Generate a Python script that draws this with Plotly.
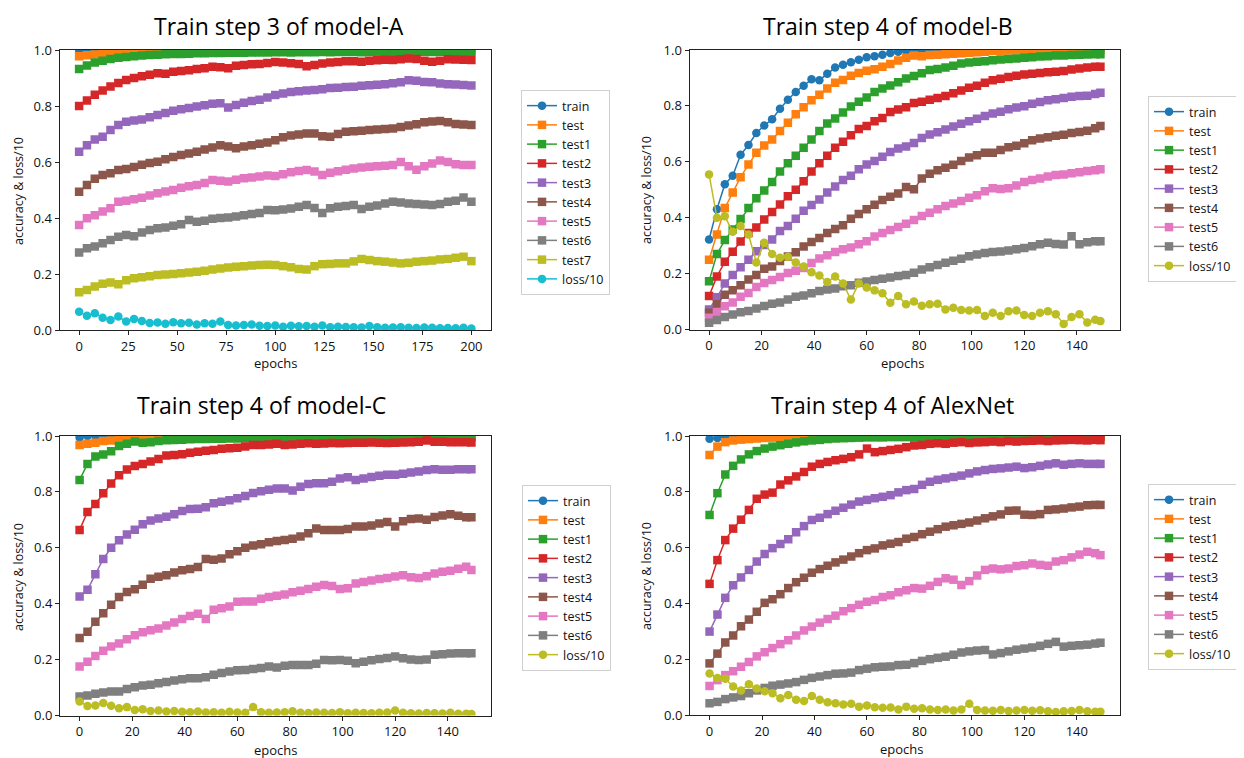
import plotly.graph_objects as go

# ---------------- data ----------------
EPOCHS_A = list(range(0, 201, 4))
EPOCHS_B = list(range(0, 148, 3)) + [149]

X_TICKS_A = [0, 25, 50, 75, 100, 125, 150, 175, 200]
X_TICKS_B = [0, 20, 40, 60, 80, 100, 120, 140]
Y_TICKS = [0.0, 0.2, 0.4, 0.6, 0.8, 1.0]

NAMES_A = ["train", "test", "test1", "test2", "test3", "test4", "test5", "test6", "test7", "loss/10"]
NAMES_B = ["train", "test", "test1", "test2", "test3", "test4", "test5", "test6", "loss/10"]

TITLES = ["Train step 3 of model-A", "Train step 4 of model-B",
          "Train step 4 of model-C", "Train step 4 of AlexNet"]

# ---- model-A ----
A_TRAIN = [1.0, 1.0, 1.0, 1.0, 1.0, 1.0, 1.0, 1.0, 1.0, 1.0,
           1.0, 1.0, 1.0, 1.0, 1.0, 1.0, 1.0, 1.0, 1.0, 1.0,
           1.0, 1.0, 1.0, 1.0, 1.0, 1.0, 1.0, 1.0, 1.0, 1.0,
           1.0, 1.0, 1.0, 1.0, 1.0, 1.0, 1.0, 1.0, 1.0, 1.0,
           1.0, 1.0, 1.0, 1.0, 1.0, 1.0, 1.0, 1.0, 1.0, 1.0,
           1.0]
A_TEST = [0.978, 0.981, 0.984, 0.987, 0.990, 0.992, 0.995, 0.997, 0.998, 0.999,
          1.0, 1.0, 1.0, 1.0, 1.0, 1.0, 1.0, 1.0, 1.0, 1.0,
          1.0, 1.0, 1.0, 1.0, 1.0, 1.0, 1.0, 1.0, 1.0, 1.0,
          1.0, 1.0, 1.0, 1.0, 1.0, 1.0, 1.0, 1.0, 1.0, 1.0,
          1.0, 1.0, 1.0, 1.0, 1.0, 1.0, 1.0, 1.0, 1.0, 1.0,
          1.0]
A_TEST1 = [0.932, 0.945, 0.955, 0.962, 0.968, 0.972, 0.975, 0.978, 0.980, 0.982,
           0.983, 0.985, 0.986, 0.986, 0.987, 0.988, 0.988, 0.989, 0.989, 0.990,
           0.990, 0.990, 0.991, 0.991, 0.991, 0.992, 0.992, 0.991, 0.992, 0.992,
           0.992, 0.993, 0.992, 0.993, 0.993, 0.993, 0.992, 0.993, 0.993, 0.994,
           0.993, 0.994, 0.993, 0.994, 0.994, 0.993, 0.994, 0.994, 0.994, 0.994,
           0.994]
A_TEST2 = [0.800, 0.820, 0.840, 0.855, 0.870, 0.882, 0.893, 0.900, 0.906, 0.912,
           0.917, 0.915, 0.922, 0.925, 0.928, 0.932, 0.935, 0.940, 0.938, 0.935,
           0.944, 0.946, 0.949, 0.950, 0.954, 0.957, 0.955, 0.953, 0.950, 0.942,
           0.946, 0.952, 0.955, 0.957, 0.960, 0.960, 0.958, 0.962, 0.963, 0.965,
           0.964, 0.967, 0.970, 0.968, 0.962, 0.958, 0.962, 0.967, 0.966, 0.965,
           0.964]
A_TEST3 = [0.637, 0.660, 0.680, 0.690, 0.714, 0.732, 0.744, 0.748, 0.752, 0.760,
           0.768, 0.775, 0.783, 0.788, 0.793, 0.798, 0.803, 0.808, 0.810, 0.795,
           0.804, 0.812, 0.818, 0.822, 0.830, 0.839, 0.845, 0.850, 0.853, 0.855,
           0.857, 0.860, 0.864, 0.865, 0.868, 0.869, 0.872, 0.874, 0.876, 0.878,
           0.881, 0.885, 0.892, 0.890, 0.886, 0.885, 0.880, 0.878, 0.877, 0.875,
           0.873]
A_TEST4 = [0.494, 0.518, 0.540, 0.554, 0.560, 0.571, 0.575, 0.582, 0.590, 0.596,
           0.601, 0.610, 0.618, 0.625, 0.630, 0.637, 0.645, 0.652, 0.660, 0.655,
           0.649, 0.655, 0.660, 0.665, 0.670, 0.678, 0.688, 0.695, 0.698, 0.702,
           0.702, 0.692, 0.690, 0.700, 0.708, 0.710, 0.712, 0.714, 0.716, 0.718,
           0.720, 0.725, 0.730, 0.735, 0.742, 0.745, 0.746, 0.742, 0.736, 0.734,
           0.732]
A_TEST5 = [0.375, 0.399, 0.410, 0.423, 0.435, 0.458, 0.462, 0.467, 0.472, 0.480,
           0.488, 0.495, 0.500, 0.508, 0.513, 0.518, 0.525, 0.536, 0.533, 0.530,
           0.537, 0.542, 0.545, 0.548, 0.552, 0.550, 0.556, 0.563, 0.568, 0.571,
           0.566, 0.554, 0.562, 0.567, 0.572, 0.577, 0.580, 0.583, 0.585, 0.587,
           0.589, 0.600, 0.585, 0.572, 0.585, 0.595, 0.605, 0.600, 0.592, 0.589,
           0.589]
A_TEST6 = [0.277, 0.292, 0.298, 0.310, 0.321, 0.333, 0.339, 0.335, 0.348, 0.357,
           0.363, 0.366, 0.372, 0.378, 0.393, 0.387, 0.390, 0.397, 0.400, 0.402,
           0.405, 0.410, 0.414, 0.418, 0.429, 0.428, 0.430, 0.434, 0.440, 0.446,
           0.436, 0.418, 0.435, 0.440, 0.443, 0.446, 0.432, 0.440, 0.445, 0.452,
           0.458, 0.455, 0.452, 0.450, 0.448, 0.446, 0.450, 0.458, 0.462, 0.473,
           0.458]
A_TEST7 = [0.135, 0.143, 0.155, 0.165, 0.170, 0.163, 0.178, 0.185, 0.188, 0.192,
           0.196, 0.198, 0.200, 0.203, 0.205, 0.208, 0.212, 0.216, 0.220, 0.223,
           0.226, 0.228, 0.230, 0.232, 0.233, 0.232, 0.228, 0.224, 0.218, 0.216,
           0.228, 0.235, 0.236, 0.238, 0.238, 0.245, 0.254, 0.250, 0.246, 0.244,
           0.241, 0.238, 0.240, 0.244, 0.246, 0.248, 0.252, 0.254, 0.258, 0.262,
           0.246]
A_LOSS = [0.065, 0.051, 0.060, 0.044, 0.036, 0.048, 0.030, 0.039, 0.032, 0.025,
          0.027, 0.022, 0.028, 0.024, 0.026, 0.020, 0.024, 0.022, 0.030, 0.018,
          0.016, 0.018, 0.020, 0.015, 0.014, 0.016, 0.012, 0.015, 0.013, 0.014,
          0.012, 0.016, 0.010, 0.012, 0.011, 0.010, 0.009, 0.014, 0.010, 0.008,
          0.009, 0.010, 0.008, 0.007, 0.009, 0.008, 0.006, 0.007, 0.006, 0.008,
          0.005]

# ---- model-B ----
B_TRAIN = [0.322, 0.430, 0.520, 0.550, 0.625, 0.660, 0.703, 0.730, 0.752, 0.790,
           0.822, 0.850, 0.872, 0.895, 0.892, 0.915, 0.937, 0.947, 0.956, 0.965,
           0.974, 0.978, 0.983, 0.989, 0.994, 0.997, 1.0, 1.0, 1.0, 1.0,
           1.0, 1.0, 1.0, 1.0, 1.0, 1.0, 1.0, 1.0, 1.0, 1.0,
           1.0, 1.0, 1.0, 1.0, 1.0, 1.0, 1.0, 1.0, 1.0, 1.0,
           1.0]
B_TEST = [0.250, 0.340, 0.435, 0.490, 0.545, 0.590, 0.632, 0.658, 0.680, 0.710,
          0.740, 0.770, 0.795, 0.820, 0.840, 0.862, 0.883, 0.893, 0.908, 0.918,
          0.926, 0.931, 0.940, 0.950, 0.962, 0.972, 0.980, 0.978, 0.982, 0.983,
          0.985, 0.987, 0.988, 0.990, 0.992, 0.994, 0.996, 0.997, 0.998, 0.999,
          1.0, 1.0, 1.0, 1.0, 1.0, 1.0, 1.0, 1.0, 1.0, 1.0,
          1.0]
B_TEST1 = [0.173, 0.270, 0.320, 0.358, 0.395, 0.435, 0.470, 0.497, 0.528, 0.565,
           0.595, 0.622, 0.650, 0.680, 0.710, 0.737, 0.755, 0.776, 0.798, 0.815,
           0.830, 0.850, 0.862, 0.873, 0.885, 0.898, 0.907, 0.917, 0.928, 0.932,
           0.937, 0.944, 0.952, 0.955, 0.958, 0.960, 0.963, 0.966, 0.968, 0.970,
           0.972, 0.974, 0.977, 0.978, 0.980, 0.980, 0.982, 0.983, 0.984, 0.985,
           0.985]
B_TEST2 = [0.120, 0.190, 0.242, 0.278, 0.315, 0.345, 0.365, 0.394, 0.420, 0.447,
           0.477, 0.500, 0.530, 0.565, 0.595, 0.622, 0.650, 0.672, 0.695, 0.717,
           0.728, 0.745, 0.757, 0.778, 0.787, 0.795, 0.810, 0.815, 0.822, 0.828,
           0.835, 0.845, 0.855, 0.865, 0.872, 0.883, 0.892, 0.897, 0.903, 0.908,
           0.912, 0.915, 0.918, 0.920, 0.922, 0.925, 0.930, 0.934, 0.937, 0.940,
           0.940]
B_TEST3 = [0.072, 0.115, 0.165, 0.195, 0.223, 0.250, 0.280, 0.302, 0.322, 0.352,
           0.370, 0.396, 0.425, 0.445, 0.465, 0.490, 0.512, 0.535, 0.550, 0.573,
           0.590, 0.603, 0.618, 0.635, 0.648, 0.655, 0.667, 0.685, 0.698, 0.706,
           0.716, 0.726, 0.736, 0.745, 0.754, 0.764, 0.773, 0.779, 0.788, 0.794,
           0.799, 0.808, 0.814, 0.820, 0.824, 0.828, 0.833, 0.835, 0.836, 0.843,
           0.847]
B_TEST4 = [0.060, 0.090, 0.124, 0.140, 0.158, 0.179, 0.195, 0.217, 0.225, 0.245,
           0.261, 0.276, 0.297, 0.313, 0.327, 0.345, 0.360, 0.373, 0.396, 0.413,
           0.430, 0.446, 0.463, 0.475, 0.487, 0.510, 0.502, 0.540, 0.557, 0.570,
           0.579, 0.589, 0.603, 0.615, 0.623, 0.632, 0.632, 0.642, 0.652, 0.657,
           0.666, 0.677, 0.683, 0.688, 0.693, 0.697, 0.703, 0.707, 0.711, 0.720,
           0.728]
B_TEST5 = [0.042, 0.063, 0.083, 0.097, 0.117, 0.131, 0.152, 0.166, 0.177, 0.188,
           0.202, 0.210, 0.220, 0.238, 0.254, 0.266, 0.277, 0.287, 0.293, 0.305,
           0.316, 0.333, 0.345, 0.356, 0.367, 0.378, 0.392, 0.406, 0.418, 0.430,
           0.442, 0.451, 0.460, 0.471, 0.480, 0.495, 0.505, 0.503, 0.505, 0.515,
           0.528, 0.535, 0.540, 0.547, 0.553, 0.555, 0.559, 0.563, 0.567, 0.570,
           0.573]
B_TEST6 = [0.024, 0.034, 0.045, 0.054, 0.062, 0.066, 0.075, 0.084, 0.092, 0.097,
           0.107, 0.117, 0.122, 0.130, 0.138, 0.143, 0.147, 0.155, 0.158, 0.167,
           0.172, 0.177, 0.182, 0.186, 0.191, 0.195, 0.203, 0.215, 0.223, 0.231,
           0.239, 0.246, 0.253, 0.262, 0.268, 0.274, 0.277, 0.279, 0.283, 0.287,
           0.292, 0.298, 0.305, 0.310, 0.306, 0.304, 0.334, 0.305, 0.312, 0.316,
           0.316]
B_LOSS = [0.555, 0.400, 0.405, 0.350, 0.370, 0.340, 0.240, 0.310, 0.270, 0.257,
          0.260, 0.240, 0.225, 0.205, 0.193, 0.170, 0.190, 0.165, 0.107, 0.165,
          0.150, 0.140, 0.130, 0.096, 0.120, 0.090, 0.100, 0.085, 0.090, 0.092,
          0.072, 0.078, 0.070, 0.068, 0.070, 0.048, 0.060, 0.048, 0.065, 0.068,
          0.052, 0.048, 0.060, 0.065, 0.055, 0.020, 0.045, 0.055, 0.025, 0.035,
          0.030]

# ---- model-C ----
C_TRAIN = [0.995, 1.0, 1.0, 1.0, 1.0, 1.0, 1.0, 1.0, 1.0, 1.0,
           1.0, 1.0, 1.0, 1.0, 1.0, 1.0, 1.0, 1.0, 1.0, 1.0,
           1.0, 1.0, 1.0, 1.0, 1.0, 1.0, 1.0, 1.0, 1.0, 1.0,
           1.0, 1.0, 1.0, 1.0, 1.0, 1.0, 1.0, 1.0, 1.0, 1.0,
           1.0, 1.0, 1.0, 1.0, 1.0, 1.0, 1.0, 1.0, 1.0, 1.0,
           1.0]
C_TEST = [0.968, 0.972, 0.976, 0.982, 0.984, 0.986, 0.988, 0.990, 0.992, 0.994,
          0.996, 0.998, 1.0, 1.0, 1.0, 1.0, 1.0, 1.0, 1.0, 1.0,
          1.0, 1.0, 1.0, 1.0, 1.0, 1.0, 1.0, 1.0, 1.0, 1.0,
          1.0, 1.0, 1.0, 1.0, 1.0, 1.0, 1.0, 1.0, 1.0, 1.0,
          1.0, 1.0, 1.0, 1.0, 1.0, 1.0, 1.0, 1.0, 1.0, 1.0,
          1.0]
C_TEST1 = [0.843, 0.900, 0.927, 0.934, 0.945, 0.964, 0.972, 0.980, 0.976, 0.978,
           0.982, 0.985, 0.986, 0.987, 0.988, 0.989, 0.989, 0.990, 0.990, 0.991,
           0.991, 0.992, 0.992, 0.992, 0.993, 0.993, 0.993, 0.993, 0.994, 0.994,
           0.994, 0.994, 0.994, 0.995, 0.995, 0.995, 0.995, 0.995, 0.995, 0.995,
           0.995, 0.996, 0.996, 0.996, 0.996, 0.996, 0.996, 0.996, 0.996, 0.996,
           0.996]
C_TEST2 = [0.664, 0.728, 0.757, 0.795, 0.830, 0.860, 0.880, 0.893, 0.900, 0.909,
           0.918, 0.930, 0.932, 0.935, 0.940, 0.944, 0.947, 0.950, 0.954, 0.956,
           0.958, 0.962, 0.968, 0.968, 0.970, 0.972, 0.968, 0.970, 0.972, 0.974,
           0.972, 0.973, 0.975, 0.974, 0.975, 0.976, 0.976, 0.977, 0.976, 0.975,
           0.976, 0.977, 0.978, 0.979, 0.984, 0.979, 0.979, 0.978, 0.978, 0.978,
           0.977]
C_TEST3 = [0.426, 0.450, 0.505, 0.560, 0.600, 0.627, 0.648, 0.665, 0.684, 0.698,
           0.705, 0.711, 0.720, 0.732, 0.739, 0.740, 0.745, 0.759, 0.765, 0.770,
           0.777, 0.785, 0.796, 0.802, 0.808, 0.812, 0.812, 0.805, 0.818, 0.828,
           0.831, 0.831, 0.836, 0.848, 0.852, 0.843, 0.848, 0.853, 0.858, 0.861,
           0.861, 0.865, 0.869, 0.873, 0.878, 0.881, 0.879, 0.879, 0.881, 0.881,
           0.881]
C_TEST4 = [0.277, 0.300, 0.335, 0.366, 0.396, 0.424, 0.442, 0.452, 0.468, 0.489,
           0.496, 0.502, 0.512, 0.520, 0.524, 0.531, 0.560, 0.557, 0.562, 0.577,
           0.588, 0.600, 0.608, 0.613, 0.620, 0.624, 0.628, 0.632, 0.640, 0.652,
           0.669, 0.664, 0.664, 0.664, 0.667, 0.676, 0.676, 0.680, 0.687, 0.692,
           0.676, 0.695, 0.703, 0.705, 0.700, 0.710, 0.716, 0.720, 0.715, 0.709,
           0.709]
C_TEST5 = [0.175, 0.192, 0.213, 0.232, 0.247, 0.258, 0.273, 0.287, 0.298, 0.305,
           0.311, 0.322, 0.333, 0.345, 0.356, 0.364, 0.345, 0.378, 0.384, 0.390,
           0.407, 0.408, 0.408, 0.418, 0.424, 0.428, 0.433, 0.441, 0.446, 0.453,
           0.461, 0.467, 0.463, 0.453, 0.455, 0.472, 0.478, 0.483, 0.488, 0.492,
           0.497, 0.502, 0.495, 0.492, 0.498, 0.508, 0.514, 0.518, 0.525, 0.532,
           0.521]
C_TEST6 = [0.068, 0.072, 0.078, 0.082, 0.086, 0.086, 0.095, 0.101, 0.107, 0.110,
           0.115, 0.120, 0.125, 0.130, 0.133, 0.133, 0.137, 0.146, 0.152, 0.157,
           0.162, 0.163, 0.166, 0.170, 0.175, 0.172, 0.178, 0.181, 0.181, 0.181,
           0.185, 0.199, 0.198, 0.199, 0.196, 0.187, 0.192, 0.198, 0.202, 0.206,
           0.211, 0.205, 0.200, 0.199, 0.200, 0.217, 0.219, 0.222, 0.223, 0.223,
           0.223]
C_LOSS = [0.050, 0.034, 0.036, 0.045, 0.035, 0.026, 0.030, 0.020, 0.022, 0.016,
          0.018, 0.014, 0.016, 0.013, 0.012, 0.014, 0.011, 0.012, 0.010, 0.013,
          0.011, 0.010, 0.030, 0.012, 0.010, 0.011, 0.012, 0.015, 0.010, 0.009,
          0.011, 0.010, 0.009, 0.012, 0.008, 0.010, 0.009, 0.008, 0.010, 0.011,
          0.018, 0.010, 0.008, 0.007, 0.009, 0.008, 0.007, 0.010, 0.006, 0.006,
          0.005]

# ---- AlexNet ----
D_TRAIN = [0.990, 0.993, 0.998, 1.0, 1.0, 1.0, 1.0, 1.0, 1.0, 1.0,
           1.0, 1.0, 1.0, 1.0, 1.0, 1.0, 1.0, 1.0, 1.0, 1.0,
           1.0, 1.0, 1.0, 1.0, 1.0, 1.0, 1.0, 1.0, 1.0, 1.0,
           1.0, 1.0, 1.0, 1.0, 1.0, 1.0, 1.0, 1.0, 1.0, 1.0,
           1.0, 1.0, 1.0, 1.0, 1.0, 1.0, 1.0, 1.0, 1.0, 1.0,
           1.0]
D_TEST = [0.932, 0.962, 0.978, 0.984, 0.987, 0.989, 0.991, 0.993, 0.994, 0.995,
          0.996, 0.997, 0.999, 1.0, 1.0, 1.0, 1.0, 1.0, 1.0, 1.0,
          1.0, 1.0, 1.0, 1.0, 1.0, 1.0, 1.0, 1.0, 1.0, 1.0,
          1.0, 1.0, 1.0, 1.0, 1.0, 1.0, 1.0, 1.0, 1.0, 1.0,
          1.0, 1.0, 1.0, 1.0, 1.0, 1.0, 1.0, 1.0, 1.0, 1.0,
          1.0]
D_TEST1 = [0.717, 0.795, 0.862, 0.893, 0.916, 0.934, 0.946, 0.955, 0.962, 0.967,
           0.972, 0.977, 0.981, 0.984, 0.986, 0.989, 0.991, 0.992, 0.993, 0.994,
           0.995, 0.995, 0.995, 0.996, 0.996, 0.996, 0.996, 0.996, 0.997, 0.997,
           0.997, 0.997, 0.997, 0.997, 0.997, 0.997, 0.997, 0.997, 0.997, 0.997,
           0.997, 0.997, 0.997, 0.997, 0.997, 0.997, 0.997, 0.997, 0.997, 0.997,
           0.997]
D_TEST2 = [0.470, 0.555, 0.627, 0.668, 0.700, 0.735, 0.775, 0.790, 0.797, 0.826,
           0.841, 0.855, 0.871, 0.890, 0.900, 0.907, 0.913, 0.918, 0.924, 0.934,
           0.955, 0.942, 0.946, 0.950, 0.954, 0.960, 0.966, 0.968, 0.972, 0.974,
           0.972, 0.976, 0.978, 0.975, 0.977, 0.978, 0.980, 0.978, 0.982, 0.980,
           0.982, 0.983, 0.984, 0.982, 0.984, 0.985, 0.986, 0.985, 0.984, 0.986,
           0.985]
D_TEST3 = [0.299, 0.360, 0.420, 0.465, 0.493, 0.520, 0.550, 0.577, 0.598, 0.613,
           0.630, 0.655, 0.677, 0.699, 0.707, 0.720, 0.732, 0.743, 0.754, 0.765,
           0.771, 0.777, 0.782, 0.788, 0.798, 0.806, 0.810, 0.825, 0.836, 0.843,
           0.848, 0.853, 0.858, 0.866, 0.873, 0.878, 0.882, 0.884, 0.887, 0.890,
           0.885, 0.888, 0.893, 0.898, 0.902, 0.897, 0.900, 0.902, 0.900, 0.900,
           0.900]
D_TEST4 = [0.185, 0.220, 0.260, 0.285, 0.318, 0.342, 0.370, 0.402, 0.415, 0.433,
           0.455, 0.476, 0.492, 0.510, 0.523, 0.535, 0.547, 0.557, 0.568, 0.580,
           0.591, 0.597, 0.608, 0.614, 0.620, 0.632, 0.638, 0.648, 0.657, 0.666,
           0.675, 0.680, 0.685, 0.690, 0.697, 0.705, 0.712, 0.719, 0.732, 0.733,
           0.718, 0.717, 0.720, 0.735, 0.737, 0.740, 0.744, 0.747, 0.752, 0.753,
           0.753]
D_TEST5 = [0.104, 0.125, 0.143, 0.157, 0.173, 0.190, 0.210, 0.225, 0.240, 0.254,
           0.268, 0.285, 0.303, 0.317, 0.331, 0.344, 0.356, 0.372, 0.383, 0.395,
           0.406, 0.412, 0.423, 0.429, 0.440, 0.447, 0.455, 0.453, 0.463, 0.477,
           0.490, 0.485, 0.466, 0.480, 0.500, 0.520, 0.525, 0.522, 0.525, 0.534,
           0.537, 0.543, 0.538, 0.535, 0.550, 0.555, 0.565, 0.575, 0.585, 0.580,
           0.573]
D_TEST6 = [0.042, 0.047, 0.057, 0.063, 0.068, 0.078, 0.088, 0.097, 0.105, 0.109,
           0.113, 0.118, 0.126, 0.133, 0.138, 0.143, 0.148, 0.149, 0.152, 0.161,
           0.166, 0.171, 0.173, 0.174, 0.179, 0.180, 0.186, 0.194, 0.200, 0.205,
           0.209, 0.216, 0.224, 0.228, 0.231, 0.233, 0.217, 0.222, 0.228, 0.234,
           0.238, 0.242, 0.248, 0.255, 0.262, 0.245, 0.248, 0.250, 0.252, 0.256,
           0.259]
D_LOSS = [0.149, 0.133, 0.130, 0.102, 0.088, 0.110, 0.095, 0.085, 0.078, 0.060,
          0.072, 0.055, 0.050, 0.068, 0.055, 0.046, 0.042, 0.038, 0.040, 0.030,
          0.034, 0.028, 0.026, 0.027, 0.020, 0.030, 0.022, 0.024, 0.020, 0.018,
          0.020, 0.016, 0.020, 0.040, 0.018, 0.016, 0.015, 0.018, 0.014, 0.016,
          0.018, 0.015, 0.017, 0.013, 0.011, 0.013, 0.014, 0.018, 0.013, 0.012,
          0.012]

# ---------------- styling ----------------
W, H = 1244, 758
PAGE_OFFSET = 8   # default page margin around the plot div
COLORS = ['#1f77b4', '#ff7f0e', '#2ca02c', '#d62728', '#9467bd',
          '#8c564b', '#e377c2', '#7f7f7f', '#bcbd22', '#17becf']
FONT = "Open Sans, Noto Sans, DejaVu Sans, sans-serif"


def px_x(v):
    return (v - PAGE_OFFSET) / W


def px_y(v):
    return 1 - (v - PAGE_OFFSET) / H


panels = [
    dict(ax="", epochs=EPOCHS_A, names=NAMES_A,
         series=[A_TRAIN, A_TEST, A_TEST1, A_TEST2, A_TEST3, A_TEST4, A_TEST5, A_TEST6, A_TEST7, A_LOSS],
         xr=[-10, 210], xt=X_TICKS_A, frame=(59.5, 491, 50, 330),
         legend="legend", leg=(521, 90), title=(279, None), xlab=(275, 363), ylab=(18, 191)),
    dict(ax="2", epochs=EPOCHS_B, names=NAMES_B,
         series=[B_TRAIN, B_TEST, B_TEST1, B_TEST2, B_TEST3, B_TEST4, B_TEST5, B_TEST6, B_LOSS],
         xr=[-7.45, 156.45], xt=X_TICKS_B, frame=(689.5, 1120, 50, 329.5),
         legend="legend2", leg=(1148, 96), title=(888, None), xlab=(902, 363), ylab=(647, 190)),
    dict(ax="3", epochs=EPOCHS_B, names=NAMES_B,
         series=[C_TRAIN, C_TEST, C_TEST1, C_TEST2, C_TEST3, C_TEST4, C_TEST5, C_TEST6, C_LOSS],
         xr=[-7.45, 156.45], xt=X_TICKS_B, frame=(60, 491, 436, 715.5),
         legend="legend3", leg=(522, 485), title=(261, 405), xlab=(275, 750), ylab=(18, 577)),
    dict(ax="4", epochs=EPOCHS_B, names=NAMES_B,
         series=[D_TRAIN, D_TEST, D_TEST1, D_TEST2, D_TEST3, D_TEST4, D_TEST5, D_TEST6, D_LOSS],
         xr=[-7.45, 156.45], xt=X_TICKS_B, frame=(690, 1120, 436, 715),
         legend="legend4", leg=(1148, 484), title=(892, 405), xlab=(901, 749), ylab=(646, 576)),
]

fig = go.Figure()
annotations = []
layout = {}

for idx, p in enumerate(panels):
    for i, (name, vals) in enumerate(zip(p["names"], p["series"])):
        is_loss = name == "loss/10"
        color = COLORS[i]
        symbol = "circle" if (name == "train" or is_loss) else "square"
        fig.add_trace(go.Scatter(
            x=p["epochs"], y=vals, name=name, mode="lines+markers",
            xaxis="x" + p["ax"], yaxis="y" + p["ax"], legend=p["legend"],
            line=dict(color=color, width=1.5),
            marker=dict(symbol=symbol, size=8.5 if symbol == "square" else 8.5, color=color),
            cliponaxis=True, hoverinfo="skip"))

    x0, x1, y0, y1 = p["frame"]
    common = dict(showline=True, mirror=True, linecolor="#222222", linewidth=1,
                  ticks="outside", ticklen=4, tickwidth=1, tickcolor="#222222",
                  showgrid=False, zeroline=False, automargin=False,
                  tickfont=dict(family=FONT, size=13, color="#111111"))
    layout["xaxis" + p["ax"]] = dict(
        domain=[px_x(x0), px_x(x1)], range=p["xr"], tickvals=p["xt"],
        anchor="y" + p["ax"], **common)
    layout["yaxis" + p["ax"]] = dict(
        domain=[px_y(y1), px_y(y0)], range=[0, 1], tickvals=Y_TICKS, tickformat=".1f",
        anchor="x" + p["ax"], **common)
    layout[p["legend"]] = dict(
        x=px_x(p["leg"][0]), y=px_y(p["leg"][1]), xanchor="left", yanchor="top",
        bgcolor="white", bordercolor="#d0d0d0", borderwidth=1,
        font=dict(family=FONT, size=12.5, color="#111111"),
        itemwidth=30, tracegroupgap=0)

    tx, ty = p["title"]
    if ty is None:
        # top-row titles sit right at the top edge of the figure
        annotations.append(dict(text=TITLES[idx], x=px_x(tx), y=1.0, xref="paper", yref="paper",
                                showarrow=False, xanchor="center", yanchor="top",
                                font=dict(family=FONT, size=23, color="#000000")))
    else:
        annotations.append(dict(text=TITLES[idx], x=px_x(tx), y=px_y(ty), xref="paper", yref="paper",
                                showarrow=False, xanchor="center", yanchor="middle",
                                font=dict(family=FONT, size=23, color="#000000")))
    lx, ly = p["xlab"]
    annotations.append(dict(text="epochs", x=px_x(lx), y=px_y(ly), xref="paper", yref="paper",
                            showarrow=False, xanchor="center", yanchor="middle",
                            font=dict(family=FONT, size=13, color="#111111")))
    vx, vy = p["ylab"]
    annotations.append(dict(text="accuracy & loss/10", x=px_x(vx), y=px_y(vy), xref="paper", yref="paper",
                            showarrow=False, xanchor="center", yanchor="middle", textangle=-90,
                            font=dict(family=FONT, size=12.5, color="#111111")))

fig.update_layout(
    width=W, height=H, margin=dict(l=0, r=0, t=0, b=0, autoexpand=False),
    paper_bgcolor="white", plot_bgcolor="white",
    annotations=annotations, **layout)

fig.write_html("out.html")
